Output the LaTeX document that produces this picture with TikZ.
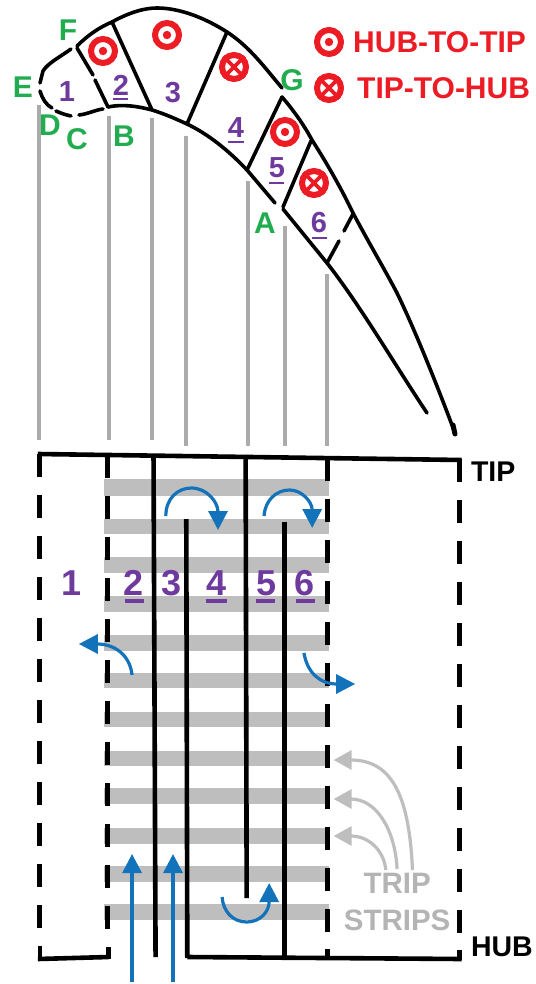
\documentclass[tikz,border=0pt]{standalone}
\usepackage{fontspec}
\setmainfont{Liberation Sans}
\usetikzlibrary{arrows.meta}
\definecolor{grn}{HTML}{22AC50}
\definecolor{pur}{HTML}{6F3A9E}
\definecolor{rd}{HTML}{ED1C24}
\definecolor{blu}{HTML}{1272BA}
\definecolor{bandgr}{HTML}{BFBEBE}
\definecolor{linegr}{HTML}{ABABAB}
\definecolor{txtgr}{HTML}{B4B4B4}
\tikzset{
 blade/.style={draw=black,line width=3.6pt,line cap=round,line join=round},
 wall/.style={draw=black,line width=4.6pt},
 dashwall/.style={draw=black,line width=5pt,dash pattern=on 23pt off 18pt},
 sight/.style={draw=linegr,line width=3.8pt},
 band/.style={fill=bandgr,draw=none},
 flow/.style={draw=blu,line width=3.2pt,-{Triangle[length=19pt,width=19pt,fill=blu]}},
 note/.style={draw=bandgr,line width=3.2pt,-{Triangle[length=18pt,width=19pt,fill=bandgr]}},
 grnlab/.style={text=grn,font=\fontsize{30}{30}\selectfont\bfseries,inner sep=0pt},
 purlab/.style={text=pur,font=\fontsize{29}{29}\selectfont\bfseries,inner sep=0pt},
 purbig/.style={text=pur,font=\fontsize{36}{36}\selectfont\bfseries,inner sep=0pt},
 redlab/.style={text=rd,font=\fontsize{30}{30}\selectfont\bfseries,inner sep=0pt,anchor=west},
 blklab/.style={text=black,font=\fontsize{28.5}{28.5}\selectfont\bfseries,inner sep=0pt,anchor=west},
 grlab/.style={text=txtgr,font=\fontsize{29.5}{29.5}\selectfont\bfseries,inner sep=0pt},
 ring/.style={draw=rd,line width=6pt,circle,minimum size=24pt,inner sep=0pt,fill=white},
 ulsmall/.style={draw=pur,line width=2.4pt},
 ulbig/.style={draw=pur,line width=4pt},
}
\newcommand{\dotsym}[2]{%
 \node[ring] (#2) at (#1) {};
 \fill[rd] (#2.center) circle (4.2pt);
}
\newcommand{\crosssym}[2]{%
 \node[ring] (#2) at (#1) {};
 \draw[rd,line width=3.8pt] (#2.north west) -- (#2.south east) (#2.north east) -- (#2.south west);
}
\begin{document}
\begin{tikzpicture}[x=1pt,y=-1pt]
\useasboundingbox[fill=white] (0,0) rectangle (535,984);
% sight lines
\foreach \x/\y/\e in {39/105/440,109/116/440,152/118/440,186/136/446,248/181/446,285/226/446,327/274/446}
  \draw[sight] (\x,\y) -- (\x,\e);
% blade: suction side
\draw[blade] (77,46) .. controls (88,35) and (100,27) .. (112,22)
  .. controls (130,12) and (145,8) .. (157,8)
  .. controls (180,8) and (205,18) .. (227,32)
  .. controls (250,47) and (265,68) .. (282,88);
\draw[blade] (282,97) .. controls (295,112) and (305,127) .. (312,140)
  .. controls (328,165) and (342,190) .. (353,213)
  .. controls (370,245) and (385,270) .. (397,293)
  .. controls (415,330) and (437,385) .. (455,433);
\draw[draw=black,line width=5pt,line cap=round] (453,425) -- (455,434);
% leading edge dashes
\draw[blade] (71,49) .. controls (60,57) and (48,63) .. (43,71) -- (40,83);
\draw[blade] (40,91) .. controls (42,98) and (46,105) .. (52,108);
\draw[blade] (56,111) .. controls (60,113) and (66,115) .. (71,116);
\draw[blade] (79,115) .. controls (88,114) and (95,110) .. (103,109);
% pressure side
\draw[blade] (108,107) .. controls (122,104) and (137,106) .. (152,110)
  .. controls (165,114) and (176,119) .. (187,124)
  .. controls (208,134) and (228,150) .. (247,170)
  -- (275,203);
\draw[blade] (283,209) -- (327,263) .. controls (360,305) and (395,365) .. (427,413);
% chords
\draw[blade] (77,48) -- (93,75);
\draw[blade] (95,80) -- (108,107);
\draw[blade] (112,22) -- (152,110);
\draw[blade] (227,32) -- (187,124);
\draw[blade] (282,97) -- (247,170);
\draw[blade] (311,141) -- (283,207);
\draw[blade] (353,214) -- (344,231);
\draw[blade] (339,241) -- (327,263);
% symbols
\dotsym{103,51}{s1}
\dotsym{167,35}{s2}
\crosssym{234,67}{s3}
\dotsym{285,132}{s4}
\crosssym{314,183}{s5}
\dotsym{329,42}{s6}
\crosssym{329,88}{s7}
\node[redlab] (l1) at (353,42) {HUB-TO-TIP};
\node[redlab] (l2) at (357,88) {TIP-TO-HUB};
% green letters
\node[grnlab] (F) at (68,30) {F};
\node[grnlab] (E) at (23,87) {E};
\node[grnlab] (D) at (50,125) {D};
\node[grnlab] (C) at (77,139) {C};
\node[grnlab] (B) at (124,136) {B};
\node[grnlab] (A) at (265,223) {A};
\node[grnlab] (G) at (292,80) {G};
% upper numbers
\node[purlab] (u1) at (67,92) {1};
\node[purlab] (u2) at (121,85) {2};
\node[purlab] (u3) at (173,93) {3};
\node[purlab] (u4) at (236,128) {4};
\node[purlab] (u5) at (277,168) {5};
\node[purlab] (u6) at (319,223) {6};
\draw[ulsmall] (113,99) -- (128,99);
\draw[ulsmall] (228,142) -- (244,142);
\draw[ulsmall] (269,183) -- (284,183);
\draw[ulsmall] (312,238) -- (327,238);
% lower part, with its horizontal positions stretched to meet the sight lines
\begin{scope}[xscale=1.0235]
% bands
\foreach \a/\b in {479/496,519/534,557/573,596/612,635/651,673/688,712/727,751/766,788/804,828/844,866/882,904/920}
  \fill[band] (102,\a) rectangle (321,\b);
% walls
\draw[wall] (37,454) -- (451,460);
\draw[wall] (37,959) -- (106,957);
\draw[wall] (183,957) -- (451,959);
\draw[dashwall] (39,454) -- (39,932);
\draw[wall] (39,946) -- (39,961);
\draw[wall] (106,947) -- (106,959);
\draw[dashwall] (105,455) -- (105,934);
\draw[dashwall] (320,458) -- (320,935);
\draw[wall] (320,949) -- (320,958);
\draw[dashwall] (449,459) -- (449,936);
\draw[wall] (449,950) -- (449,960);
\draw[wall] (150,455) -- (152,957);
\draw[wall] (182,519) -- (183,958);
\draw[wall] (240,455) -- (241,898);
\draw[wall] (278,522) -- (278,958);
% lower numbers
\node[purbig] (n1) at (70,583) {1};
\node[purbig] (n2) at (130,583) {2};
\node[purbig] (n3) at (168,583) {3};
\node[purbig] (n4) at (212,583) {4};
\node[purbig] (n5) at (260,583) {5};
\node[purbig] (n6) at (298,583) {6};
\draw[ulbig] (122,601) -- (141,601);
\draw[ulbig] (201,601) -- (222,601);
\draw[ulbig] (250,601) -- (269,601);
\draw[ulbig] (289,601) -- (308,601);
% blue arrows
\draw[flow] (162,516) .. controls (162,498) and (174,488) .. (187,488) .. controls (202,488) and (213,502) .. (213,530);
\draw[flow] (258,516) .. controls (259,500) and (270,490) .. (283,490) .. controls (295,490) and (305,502) .. (305,528);
\draw[flow] (129,675) .. controls (127,655) and (112,644) .. (77,644);
\draw[flow] (297,653) .. controls (300,672) and (312,684) .. (347,684);
\draw[flow] (217,897) .. controls (218,912) and (228,922) .. (241,922) .. controls (254,922) and (263,912) .. (263,883);
\coordinate (ia1) at (129,982);
\coordinate (ia2) at (169,982);
\coordinate (ib1) at (129,854);
\coordinate (ib2) at (169,854);
\draw[flow] (ia1) -- (ib1);
\draw[flow] (ia2) -- (ib2);
% trip strips notes
\node[grlab] (t1) at (388,883) {TRIP};
\node[grlab] (t2) at (388,920) {STRIPS};
\draw[note] (403,870) .. controls (400,800) and (385,760) .. (326,760);
\draw[note] (388,869) .. controls (386,830) and (368,799) .. (326,799);
\draw[note] (377,870) .. controls (375,850) and (360,836) .. (326,836);
% right labels
\node[blklab] (tip) at (460,472) {TIP};
\node[blklab] (hub) at (460,947) {HUB};
\end{scope}
\end{tikzpicture}
\end{document}
